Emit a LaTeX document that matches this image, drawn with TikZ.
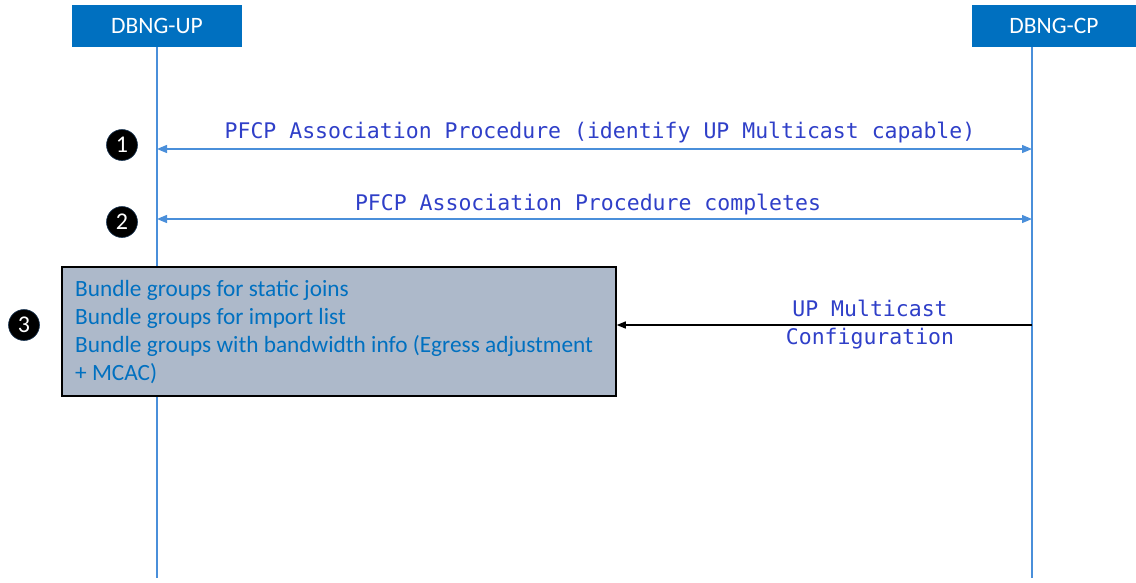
\documentclass[tikz,border=0pt]{standalone}
\usepackage{fontspec}
\setmainfont{Carlito}
\newfontfamily\monof{DejaVu Sans Mono}
\usetikzlibrary{arrows.meta}
\definecolor{hdrblue}{HTML}{0070C0}
\definecolor{lifeblue}{HTML}{4A8FDA}
\definecolor{msgblue}{HTML}{2F3FC8}
\definecolor{boxgray}{HTML}{ADB9CA}
\tikzset{
  hdr/.style={fill=hdrblue, text=white, minimum height=42pt, inner sep=0pt, font=\fontsize{23.5}{28}\selectfont},
  life/.style={draw=lifeblue, line width=1.6pt},
  msg/.style={draw=lifeblue, line width=1.3pt, {Triangle[length=10pt,width=8pt]}-{Triangle[length=10pt,width=8pt]}},
  msglabel/.style={text=msgblue, font=\monof\fontsize{21.5}{28}\selectfont, inner sep=0pt},
  num/.style={circle, fill=black, draw=lifeblue!40!black, line width=0.6pt, minimum size=31pt, inner sep=0pt, text=white, font=\fontsize{24}{26}\selectfont},
  graybox/.style={draw=black, line width=1.5pt, fill=boxgray},
  boxtext/.style={text=hdrblue, font=\fontsize{23.3}{28}\selectfont, align=left, anchor=north west, inner sep=0pt},
  cfg/.style={draw=black, line width=1.3pt, -{Triangle[length=9pt,width=7pt]}}
}
\begin{document}
\begin{tikzpicture}[x=1pt,y=-1pt]
\useasboundingbox (0,0) rectangle (1136,582);
% headers
\node[hdr, minimum width=170pt] (up) at (157,26) {DBNG-UP};
\node[hdr, minimum width=164pt] (cp) at (1054,26) {DBNG-CP};
% lifelines
\coordinate (upT) at (157,47);
\coordinate (upB) at (157,578);
\coordinate (cpT) at (1032,47);
\coordinate (cpB) at (1032,578);
\draw[life] (upT) -- (upB);
\draw[life] (cpT) -- (cpB);
% step 1
\coordinate (m1a) at (157,149);
\coordinate (m1b) at (1032,149);
\draw[msg] (m1a) -- (m1b);
\node[msglabel] (l1) at (600,132.5) {PFCP Association Procedure (identify UP Multicast capable)};
\node[num] (n1) at (122,145) {1};
% step 2
\coordinate (m2a) at (157,219);
\coordinate (m2b) at (1032,219);
\draw[msg] (m2a) -- (m2b);
\node[msglabel] (l2) at (588,204.5) {PFCP Association Procedure completes};
\node[num] (n2) at (122,222) {2};
% step 3
\node[graybox, minimum width=554pt, minimum height=129pt, inner sep=0pt] (box) at (339,331.5) {};
\node[boxtext] (bt) at (75,280) {Bundle groups for static joins\\Bundle groups for import list\\Bundle groups with bandwidth info (Egress adjustment\\+ MCAC)};
\node[num] (n3) at (24,325) {3};
\coordinate (m3a) at (1032,325);
\draw[cfg] (m3a) -- (box.east |- m3a);
\node[msglabel, align=center] (l3) at (870,324.5) {UP Multicast\\Configuration};
\end{tikzpicture}
\end{document}
